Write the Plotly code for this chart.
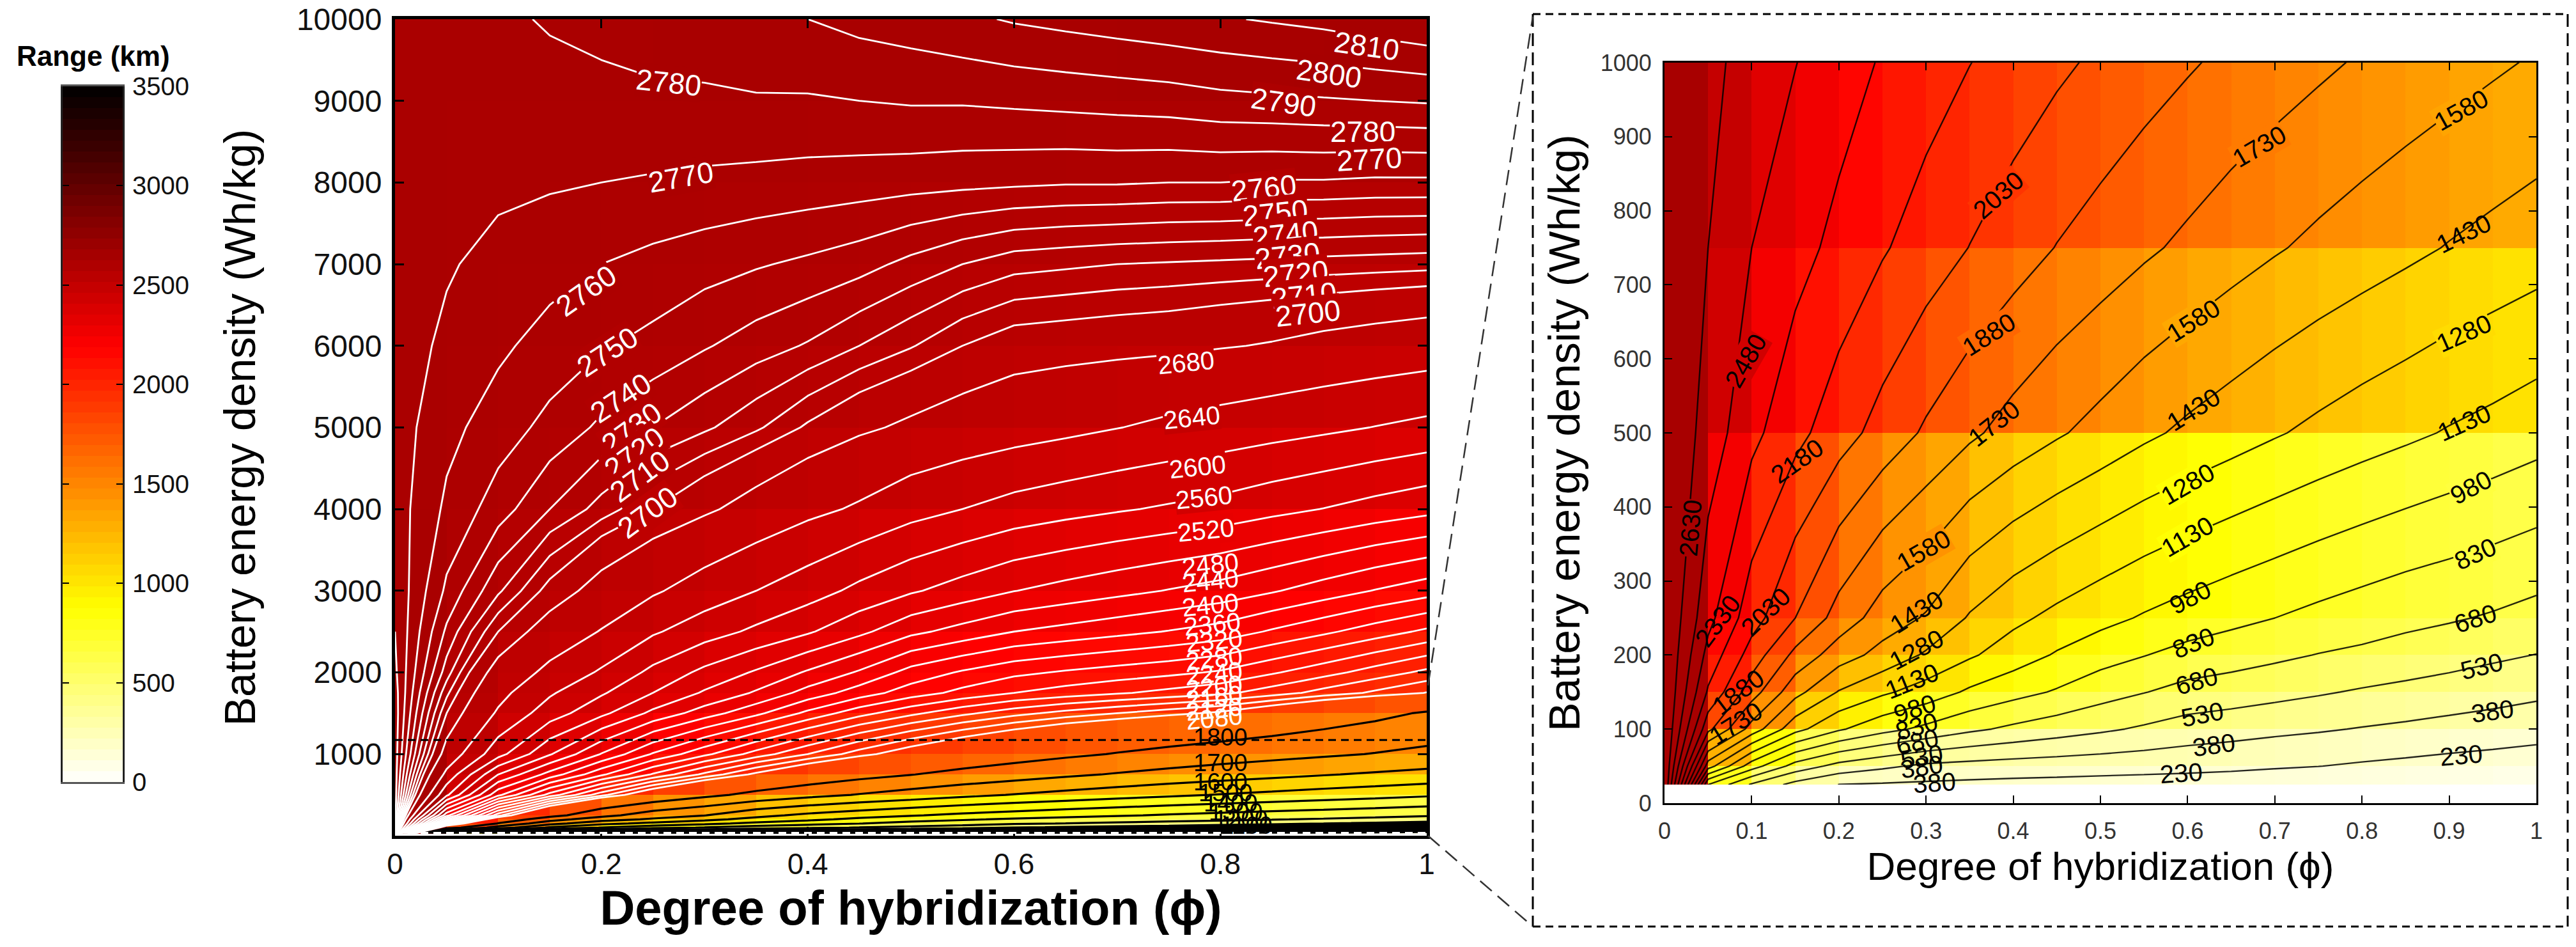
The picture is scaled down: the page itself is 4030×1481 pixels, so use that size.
import plotly.graph_objects as go
import numpy as np

# ---------- data ----------
phi = [0, .05, .1, .15, .2, .25, .3, .35, .4, .45, .5, .55, .6, .65, .7, .75, .8, .85, .9, .95, 1]
energy = [25, 50, 100, 150, 200, 250, 500, 750, 1000, 1500, 1750, 2000, 2500, 3000, 4000, 5000, 6000, 7000, 8000, 9000, 10000]

R_25 = [2785, 830, 510, 330, 228, 215, 205, 195, 187, 180, 172, 165, 158, 150, 140, 130, 120, 110, 100, 88, 78]
R_50 = [2785, 1350, 900, 620, 480, 410, 350, 330, 315, 305, 295, 285, 275, 262, 245, 232, 212, 195, 178, 163, 148]
R_100 = [2785, 1920, 1520, 1180, 1000, 880, 795, 710, 650, 600, 555, 510, 465, 440, 415, 395, 372, 352, 330, 312, 290]
R_150 = [2785, 2160, 1800, 1480, 1270, 1155, 1065, 955, 880, 815, 740, 685, 630, 605, 575, 545, 515, 490, 465, 437, 410]
R_200 = [2785, 2280, 1965, 1690, 1500, 1380, 1260, 1150, 1055, 965, 890, 835, 780, 745, 710, 675, 650, 620, 590, 557, 527]
R_250 = [2785, 2375, 2095, 1880, 1670, 1510, 1415, 1265, 1165, 1090, 1025, 965, 915, 870, 830, 790, 755, 720, 695, 665, 630]
R_500 = [2785, 2568, 2370, 2225, 2095, 1973, 1858, 1758, 1672, 1598, 1530, 1460, 1400, 1347, 1294, 1245, 1200, 1160, 1118, 1082, 1040]
R_750 = [2785, 2630, 2480, 2384, 2288, 2195, 2110, 2027, 1950, 1875, 1815, 1755, 1700, 1645, 1594, 1547, 1505, 1464, 1422, 1385, 1350]
R_1000 = [2785, 2668, 2575, 2484, 2398, 2316, 2250, 2183, 2120, 2059, 2002, 1948, 1896, 1846, 1800, 1757, 1714, 1676, 1640, 1602, 1565]
R_1500 = [2785, 2700, 2635, 2580, 2530, 2470, 2420, 2370, 2310, 2255, 2210, 2170, 2135, 2105, 2080, 2055, 2030, 1980, 1920, 1860, 1790]
R_1750 = [2784, 2713, 2652, 2605, 2565, 2520, 2475, 2435, 2385, 2340, 2300, 2268, 2240, 2222, 2205, 2188, 2170, 2140, 2105, 2072, 2038]
R_2000 = [2782, 2725, 2668, 2630, 2595, 2550, 2510, 2475, 2435, 2395, 2345, 2315, 2290, 2275, 2262, 2250, 2235, 2205, 2175, 2142, 2110]
R_2500 = [2780, 2738, 2700, 2665, 2638, 2605, 2578, 2552, 2525, 2490, 2450, 2425, 2400, 2386, 2372, 2358, 2343, 2315, 2288, 2260, 2232]
R_3000 = [2778, 2748, 2722, 2695, 2668, 2645, 2622, 2600, 2578, 2550, 2525, 2503, 2481, 2466, 2452, 2438, 2424, 2404, 2381, 2358, 2337]
R_4000 = [2775, 2758, 2745, 2730, 2716, 2700, 2685, 2668, 2650, 2635, 2615, 2600, 2585, 2574, 2564, 2555, 2546, 2532, 2519, 2505, 2492]
R_5000 = [2775, 2763, 2755, 2747, 2738, 2730, 2722, 2712, 2698, 2685, 2675, 2666, 2658, 2650, 2641, 2632, 2624, 2616, 2608, 2599, 2590]
R_6000 = [2775, 2768, 2762, 2756, 2751, 2747, 2741, 2735, 2729, 2720, 2711, 2700, 2692, 2690, 2688, 2686, 2682, 2678, 2672, 2667, 2662]
R_7000 = [2775, 2771, 2767, 2764, 2760, 2757, 2754, 2751, 2748, 2744, 2737, 2730, 2724, 2722, 2720, 2719, 2718, 2717, 2716, 2715, 2714]
R_8000 = [2775, 2772, 2772, 2771, 2770, 2769, 2768, 2767, 2766, 2765, 2764, 2763, 2762, 2761, 2761, 2760, 2760, 2759, 2759, 2758, 2758]
R_9000 = [2775, 2773, 2775, 2776, 2777, 2778, 2778, 2779, 2779, 2780, 2781, 2781, 2782, 2783, 2784, 2785, 2787, 2788, 2789, 2790, 2791]
R_10000 = [2776, 2775, 2778, 2781, 2783, 2785, 2787, 2789, 2790, 2793, 2795, 2798, 2801, 2803, 2805, 2807, 2809, 2811, 2813, 2816, 2819]

range_table = [R_25, R_50, R_100, R_150, R_200, R_250, R_500, R_750, R_1000, R_1500, R_1750,
               R_2000, R_2500, R_3000, R_4000, R_5000, R_6000, R_7000, R_8000, R_9000, R_10000]

main_x_ticks = [0, .2, .4, .6, .8, 1]
main_x_ticktext = ["0", "0.2", "0.4", "0.6", "0.8", "1"]
main_y_ticks = [1000, 2000, 3000, 4000, 5000, 6000, 7000, 8000, 9000, 10000]
inset_x_ticks = [0, .1, .2, .3, .4, .5, .6, .7, .8, .9, 1]
inset_x_ticktext = ["0", "0.1", "0.2", "0.3", "0.4", "0.5", "0.6", "0.7", "0.8", "0.9", "1"]
inset_y_ticks = [0, 100, 200, 300, 400, 500, 600, 700, 800, 900, 1000]
bar_ticks = [0, 500, 1000, 1500, 2000, 2500, 3000, 3500]

# contour label text, phi, energy, angle
main_white_text = ["2780", "2770", "2760", "2750", "2740", "2730", "2720", "2710", "2700",
                   "2810", "2800", "2790", "2780", "2770"]
main_white_x = [.265, .277, .185, .206, .219, .229, .232, .237, .245, .942, .905, .861, .938, .944]
main_white_y = [9224, 8066, 6672, 5928, 5364, 4988, 4690, 4400, 3962, 9671, 9335, 8982, 8625, 8285]
main_white_a = [6, -10, -35, -33, -33, -36, -36, -36, -36, 8, 8, 8, 0, -3]

stack_text = ["2760", "2750", "2740", "2730", "2720", "2710", "2700", "2680", "2640", "2600",
              "2560", "2520", "2480", "2440", "2400", "2360", "2320", "2280", "2240", "2200", "2160", "2120", "2080"]
stack_x = [.842, .853, .863, .865, .873, .881, .885, .767, .772, .778,
           .784, .786, .79, .79, .79, .792, .794, .794, .794, .794, .794, .794, .794]
stack_y = [7933, 7629, 7370, 7104, 6883, 6617, 6398, 5795, 5121, 4518,
           4142, 3743, 3320, 3124, 2827, 2592, 2388, 2169, 1989, 1825, 1699, 1550, 1441]

main_black_text = ["1800", "1700", "1600", "1500", "1400", "1300", "1200", "1100"]
main_black_x = [.8, .8, .8, .805, .81, .815, .82, .825]
main_black_y = [1206, 893, 658, 525, 399, 290, 204, 125]

inset_text = ["2480", "2030", "1730", "1580", "1880", "1580", "1430", "1280", "1430", "1130", "1730", "2180",
              "1280", "980", "2630", "1580", "1130", "830", "2330", "2030", "1430", "980", "680", "1280", "830",
              "530", "1880", "1130", "680", "380", "1730", "980", "530", "830", "380", "230", "680", "530", "380",
              "230", "380"]
inset_x = [.093, .383, .682, .914, .372, .607, .917, .917, .607, .917, .378, .152,
           .6, .925, .03, .297, .6, .93, .061, .116, .289, .603, .93, .289, .607,
           .937, .085, .284, .61, .95, .082, .287, .617, .289, .63, .914, .29, .295, .295,
           .593, .31]
inset_y = [598, 821, 887, 936, 633, 652, 769, 635, 532, 514, 513, 462,
           431, 427, 372, 341, 360, 337, 246, 258, 258, 278, 250, 207, 217,
           185, 150, 165, 165, 124, 108, 128, 120, 104, 79, 65, 83, 63, 49,
           41, 28]
inset_a = [-60, -41, -30, -29, -32, -32, -26, -24, -32, -24, -38, -35,
           -30, -28, -85, -30, -30, -24, -53, -44, -32, -28, -18, -28, -22,
           -14, -37, -22, -16, -8, -32, -18, -11, -16, -8, -5, -13, -10, -8,
           -4, -4]

# ---------- helpers / style ----------
W, H = 4030, 1481
FONT = "Liberation Sans"
hot_r = [[0, "rgb(255,255,255)"], [.25, "rgb(255,255,0)"], [.625, "rgb(255,0,0)"], [1, "rgb(0,0,0)"]]
COLOR_TOP = 3700  # the fields are painted a little lighter than the key beside them


def px_x(a, b):
    return [a / W, b / W]


def px_y(top, bottom):
    return [1 - bottom / H, 1 - top / H]


def shade(v):
    v = max(0, min(1, v / COLOR_TOP))
    if v < .25:
        return "rgb(255,255,%d)" % round(255 * (1 - v / .25))
    if v < .625:
        return "rgb(255,%d,0)" % round(255 * (1 - (v - .25) / .375))
    return "rgb(%d,0,0)" % round(255 * (1 - (v - .625) / .375))


z_cells = [row[:-1] for row in range_table[:-1]]


def local_shade(x, y):
    i = min(int(np.searchsorted(phi, x, side="right")) - 1, len(phi) - 2)
    j = min(int(np.searchsorted(energy, y, side="right")) - 1, len(energy) - 2)
    return shade(z_cells[max(j, 0)][max(i, 0)])


def near_row_edge(y):
    return min(abs(y - e) for e in energy) < 40


fig = go.Figure()

# main panel
fig.add_trace(go.Heatmap(x=phi, y=energy, z=z_cells, colorscale=hot_r, zmin=0, zmax=COLOR_TOP,
                         showscale=False, xaxis="x", yaxis="y", hoverinfo="skip"))
for start, end, size, color, width in [(150, 450, 60, "black", 4.5),
                                       (210, 1810, 200, "black", 3.2),
                                       (2040, 2680, 40, "white", 2.8),
                                       (2700, 2810, 10, "white", 2.8)]:
    fig.add_trace(go.Contour(x=phi, y=energy, z=range_table, autocontour=False,
                             contours=dict(start=start, end=end, size=size, coloring="none"),
                             line=dict(color=color, width=width, smoothing=0),
                             showscale=False, xaxis="x", yaxis="y", hoverinfo="skip"))

# inset
fig.add_trace(go.Heatmap(x=phi, y=energy, z=z_cells, colorscale=hot_r, zmin=0, zmax=COLOR_TOP,
                         showscale=False, xaxis="x2", yaxis="y2", hoverinfo="skip"))
fig.add_trace(go.Contour(x=phi, y=energy, z=range_table, autocontour=False,
                         contours=dict(start=230, end=2630, size=150, coloring="none"),
                         line=dict(color="rgba(0,0,0,.85)", width=2.4, smoothing=0),
                         showscale=False, xaxis="x2", yaxis="y2", hoverinfo="skip"))

# colour key
bar_edges = np.linspace(0, 3500, 65)
bar_levels = (bar_edges[:-1] + bar_edges[1:]) / 2
fig.add_trace(go.Heatmap(x=[0, 1], y=bar_edges, z=[[v] for v in bar_levels], colorscale=hot_r, zmin=0, zmax=3500,
                         showscale=False, xaxis="x3", yaxis="y3", hoverinfo="skip"))

ann = []
for t, x, y, a in zip(main_white_text, main_white_x, main_white_y, main_white_a):
    ann.append(dict(text=t, x=x, y=y, xref="x", yref="y", textangle=a, showarrow=False, borderpad=0,
                    bgcolor=local_shade(x, y), font=dict(family=FONT, size=46, color="white")))
for t, x, y in zip(stack_text, stack_x, stack_y):
    big = int(t) >= 2700
    ann.append(dict(text=t, x=x, y=y, xref="x", yref="y", textangle=-6, showarrow=False, borderpad=0,
                    bgcolor=local_shade(x, y) if int(t) >= 2520 else None,
                    font=dict(family=FONT, size=46 if big else 40, color="white")))
for t, x, y in zip(main_black_text, main_black_x, main_black_y):
    ann.append(dict(text=t, x=x, y=y, xref="x", yref="y", showarrow=False, borderpad=0,
                    font=dict(family=FONT, size=38, color="black")))
for t, x, y, a in zip(inset_text, inset_x, inset_y, inset_a):
    clear = (x > .5 or y >= 200) and not near_row_edge(y)
    ann.append(dict(text=t, x=x, y=y, xref="x2", yref="y2", textangle=a, showarrow=False, borderpad=0,
                    bgcolor=local_shade(x, y) if clear else None,
                    font=dict(family=FONT, size=40, color="black")))
ann.append(dict(text="<b>Range (km)</b>", x=24 / W, y=1 - 87 / H, xref="paper", yref="paper", xanchor="left",
                yanchor="middle", showarrow=False, font=dict(family=FONT, size=44, color="black")))


def pline(x0, y0, x1, y1, **line):
    return dict(type="line", xref="paper", yref="paper", x0=x0 / W, x1=x1 / W, y0=1 - y0 / H, y1=1 - y1 / H, line=line)


shapes = [
    dict(type="line", xref="x", yref="y", x0=0, x1=1, y0=1172, y1=1172, line=dict(color="black", width=3, dash="12px,8px")),
    dict(type="line", xref="x", yref="y", x0=0, x1=1, y0=35, y1=35, line=dict(color="white", width=3, dash="12px,8px")),
    pline(2398, 22, 4017, 22, color="black", width=3, dash="12px,8px"),
    pline(2398, 1449, 4017, 1449, color="black", width=3, dash="12px,8px"),
    pline(2398, 22, 2398, 1449, color="black", width=3, dash="20px,10px"),
    pline(4017, 22, 4017, 1449, color="black", width=3, dash="20px,10px"),
    pline(2234, 1072, 2398, 26, color="#333", width=2.5, dash="24px,12px"),
    pline(2234, 1307, 2398, 1449, color="#333", width=2.5, dash="24px,12px"),
]


def axis(domain, rng, **kw):
    d = dict(domain=domain, range=rng, showgrid=False, zeroline=False, showline=True, linecolor="black",
             mirror="allticks", ticks="inside", tickcolor="black", automargin=False)
    d.update(kw)
    return d


fig.update_layout(
    width=W, height=H, autosize=False, margin=dict(l=0, r=0, t=0, b=0),
    paper_bgcolor="white", plot_bgcolor="white", showlegend=False, font=dict(family=FONT, color="black"),
    annotations=ann, shapes=shapes,
    xaxis=axis(px_x(618, 2232), [0, 1], anchor="y", tickvals=main_x_ticks, ticktext=main_x_ticktext, linewidth=5, ticklen=14,
               tickwidth=3, tickfont=dict(size=46, color="#111"), ticklabelstandoff=0,
               title=dict(text="<b>Degree of hybridization (ϕ)</b>", font=dict(size=76), standoff=8)),
    yaxis=axis(px_y(30, 1307), [0, 10000], anchor="x", tickvals=main_y_ticks, linewidth=5, ticklen=14, tickwidth=3,
               tickformat="d", tickfont=dict(size=48, color="#111"), ticklabelstandoff=6,
               title=dict(text="Battery energy density (Wh/kg)", font=dict(size=68), standoff=44)),
    xaxis2=axis(px_x(2604, 3968), [0, 1], anchor="y2", tickvals=inset_x_ticks, ticktext=inset_x_ticktext, linewidth=3, ticklen=12,
                tickwidth=2, tickfont=dict(size=36, color="#333"), ticklabelstandoff=10,
                title=dict(text="Degree of hybridization (ϕ)", font=dict(size=62), standoff=14)),
    yaxis2=axis(px_y(98, 1256), [0, 1000], anchor="x2", tickvals=inset_y_ticks, linewidth=3, ticklen=12, tickwidth=2,
                tickfont=dict(size=36, color="#333"), ticklabelstandoff=10,
                title=dict(text="Battery energy density (Wh/kg)", font=dict(size=68), standoff=10)),
    xaxis3=axis(px_x(98, 192), [0, 1], anchor="y3", ticks="", showticklabels=False, linecolor="#555", linewidth=3, mirror=True),
    yaxis3=axis(px_y(135, 1223), [0, 3500], anchor="x3", side="right", tickvals=bar_ticks, linecolor="#222", linewidth=3,
                ticklen=10, tickwidth=2, tickfont=dict(size=40, color="#111"), ticklabelstandoff=4),
)

fig.write_html("out.html", config=dict(displayModeBar=False), post_script="document.body.style.margin='0';")
